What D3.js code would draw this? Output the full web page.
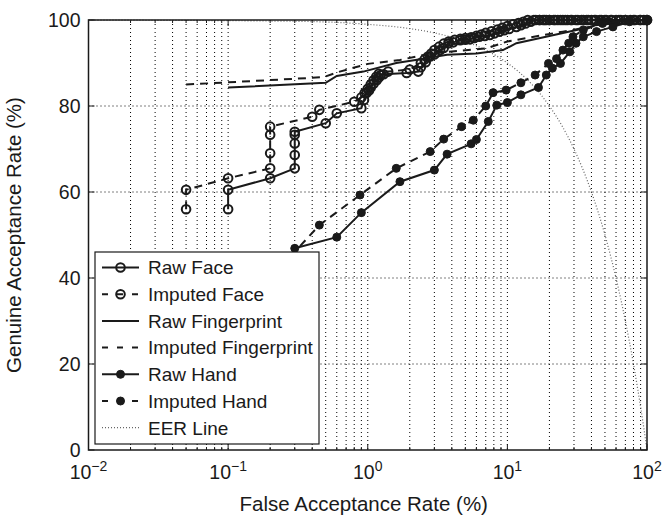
<!DOCTYPE html>
<html>
<head>
<meta charset="utf-8">
<script src="https://cdn.jsdelivr.net/npm/d3@7"></script>
<style>
  body { margin: 0; background: #fff; }
  svg { font-family: "Liberation Sans", Arial, sans-serif; }
</style>
</head>
<body>
<svg id="chart" width="665" height="515"></svg>
<script>
// ROC data (FAR %, GAR %)
var rawFaceFAR = [0.1, 0.1, 0.2, 0.3, 0.3, 0.3, 0.3, 0.3, 0.5, 0.6, 0.9, 0.94, 0.98, 1.02, 1.05, 1.1, 1.16, 1.2, 1.24, 1.3, 1.9, 2.3, 2.4, 2.6, 2.8, 3.0, 3.3, 3.5, 3.8, 4.1, 4.6, 5.0, 5.4, 5.8, 6.3, 6.9, 7.5, 8.1, 8.8, 9.5, 10.3, 11.6, 12.5, 13.5, 14.7, 16, 17, 18, 19, 20, 21.5, 23, 25, 27, 29, 31, 34, 37, 40, 43, 47, 51, 55, 60, 65, 70, 76, 82, 89, 95, 100];
var rawFaceGAR = [56, 60.5, 63.2, 65.5, 68.6, 71.3, 73.3, 74, 76, 78.3, 79.5, 81.4, 83, 83.6, 84.3, 85.2, 86, 86.6, 87.2, 87.4, 87.7, 88, 89, 90.2, 91.5, 92, 93, 93.5, 94.6, 94.8, 95.3, 95.4, 95.5, 95.8, 96.1, 96.3, 96.5, 96.9, 97.3, 97.6, 97.9, 98.4, 98.8, 99.2, 99.6, 100, 100, 100, 100, 100, 100, 100, 100, 100, 100, 100, 100, 100, 100, 100, 100, 100, 100, 100, 100, 100, 100, 100, 100, 100, 100];

var impFaceFAR = [0.05, 0.05, 0.1, 0.2, 0.2, 0.2, 0.2, 0.4, 0.45, 0.8, 0.9, 0.95, 1.0, 1.05, 1.1, 1.15, 1.2, 1.4, 2.0, 2.4, 2.55, 2.7, 2.85, 3.0, 3.25, 3.5, 3.8, 4.2, 4.6, 5.0, 5.5, 6.0, 6.5, 7.0, 7.7, 8.5, 9.2, 10, 11, 12, 13, 14, 15.5, 17, 18.5, 20, 22, 24, 26, 28.5, 32, 35, 38, 42, 46, 50, 56, 63, 70, 80, 90, 100];
var impFaceGAR = [56, 60.5, 63.2, 65.5, 69, 73.3, 75.2, 77.5, 79.1, 81, 82, 83, 84, 85, 86, 86.8, 87.5, 88, 88.5, 90, 90.8, 91.5, 92.2, 93, 93.8, 94.5, 95, 95.4, 95.6, 95.8, 96, 96.3, 96.6, 97, 97.4, 97.8, 98.2, 98.6, 99, 99.3, 99.6, 100, 100, 100, 100, 100, 100, 100, 100, 100, 100, 100, 100, 100, 100, 100, 100, 100, 100, 100, 100, 100];

var rawFingerFAR = [0.1, 0.5, 0.6, 0.93, 1.6, 2.2, 3.7, 6, 9.3, 11.6, 18.9, 35, 43, 75, 100];
var rawFingerGAR = [84.3, 85.4, 87, 88, 90, 90.7, 91.9, 92.2, 93, 94.6, 96.1, 98, 98.8, 100, 100];

var impFingerFAR = [0.05, 0.1, 0.48, 0.63, 1.0, 1.7, 2.8, 7.1, 10, 25, 39, 70, 100];
var impFingerGAR = [85, 85.5, 86.7, 88, 89.8, 90.7, 92.2, 93.4, 95, 97.3, 98.4, 100, 100];

var rawHandFAR = [0.3, 0.6, 0.9, 1.7, 3.0, 3.7, 5.5, 6.0, 7.3, 8.4, 10, 12.5, 16.7, 19, 21, 24, 28, 31, 35, 43.5, 57, 75, 100];
var rawHandGAR = [46.9, 49.5, 55.2, 62.4, 65.1, 68.8, 71.2, 72.2, 76.4, 80.2, 80.8, 82.6, 84.3, 87.2, 88.8, 89.9, 92.6, 94.6, 96.1, 97.3, 98.4, 99.6, 100];

var impHandFAR = [0.28, 0.45, 0.88, 1.6, 2.8, 3.5, 4.7, 5.7, 7.0, 7.9, 9.8, 12.5, 15.8, 19.7, 22.5, 25, 27.5, 29.5, 35, 48, 75, 100];
var impHandGAR = [45, 52.3, 59.3, 65.5, 69.4, 72.3, 75.2, 76.7, 80, 83.1, 83.7, 85.4, 87.2, 89.9, 91, 93, 94.6, 96.1, 97.7, 99.2, 100, 100];

var eerFAR = [0.01, 0.3, 1, 2, 3, 5, 7, 10, 15, 20, 25, 30, 40, 50, 60, 70, 80, 90, 95, 100];
var eerGAR = [99.99, 99.7, 99, 98, 97, 95, 93, 90, 85, 80, 75, 70, 60, 50, 40, 30, 20, 10, 5, 0];

var xTickExp = [-2, -1, 0, 1, 2];
var yTicks = [0, 20, 40, 60, 80, 100];

var series = [
  { name: 'Raw Face', far: rawFaceFAR, gar: rawFaceGAR, dash: null, marker: 'open' },
  { name: 'Imputed Face', far: impFaceFAR, gar: impFaceGAR, dash: '8,6', marker: 'open' },
  { name: 'Raw Fingerprint', far: rawFingerFAR, gar: rawFingerGAR, dash: null, marker: null },
  { name: 'Imputed Fingerprint', far: impFingerFAR, gar: impFingerGAR, dash: '8,6', marker: null },
  { name: 'Raw Hand', far: rawHandFAR, gar: rawHandGAR, dash: null, marker: 'filled' },
  { name: 'Imputed Hand', far: impHandFAR, gar: impHandGAR, dash: '8,6', marker: 'filled' }
];

var margin = { top: 20, right: 18, bottom: 65, left: 88.5 };
var svg = d3.select('#chart');
var width = 665 - margin.left - margin.right,
    height = 515 - margin.top - margin.bottom;
var ink = '#1a1a1a';

var x = d3.scaleLog().domain([0.01, 100]).range([0, width]);
var y = d3.scaleLinear().domain([0, 100]).range([height, 0]);

var g = svg.append('g').attr('transform', 'translate(' + margin.left + ',' + margin.top + ')');

// grid
var minor = x.ticks().filter(function(v) { return v > 0.01 && v < 100; });
g.append('g').selectAll('line').data(minor).enter().append('line')
  .attr('x1', function(d) { return x(d); }).attr('x2', function(d) { return x(d); })
  .attr('y1', 0).attr('y2', height)
  .attr('stroke', '#000').attr('stroke-width', 1).attr('stroke-dasharray', '1,3');
g.append('g').selectAll('line').data(yTicks.slice(1, -1)).enter().append('line')
  .attr('x1', 0).attr('x2', width)
  .attr('y1', function(d) { return y(d); }).attr('y2', function(d) { return y(d); })
  .attr('stroke', '#000').attr('stroke-width', 1).attr('stroke-dasharray', '1,3');

// ticks (inward, MATLAB style)
x.ticks().forEach(function(v) {
  var l = Math.log10(v);
  var len = Math.abs(l - Math.round(l)) < 1e-9 ? 6 : 3;
  g.append('line').attr('x1', x(v)).attr('x2', x(v)).attr('y1', height).attr('y2', height - len).attr('stroke', ink);
  g.append('line').attr('x1', x(v)).attr('x2', x(v)).attr('y1', 0).attr('y2', len).attr('stroke', ink);
});
yTicks.forEach(function(v) {
  g.append('line').attr('x1', 0).attr('x2', 6).attr('y1', y(v)).attr('y2', y(v)).attr('stroke', ink);
  g.append('line').attr('x1', width).attr('x2', width - 6).attr('y1', y(v)).attr('y2', y(v)).attr('stroke', ink);
});

// EER line
var eer = eerFAR.map(function(f, i) { return [f, eerGAR[i]]; });
g.append('path').datum(eer)
  .attr('d', d3.line().x(function(d) { return x(d[0]); }).y(function(d) { return y(d[1]); }).curve(d3.curveMonotoneX))
  .attr('fill', 'none').attr('stroke', '#666').attr('stroke-width', 1.2).attr('stroke-dasharray', '1,2');

var line = d3.line().x(function(d) { return x(d[0]); }).y(function(d) { return y(d[1]); });

series.forEach(function(s) {
  var pts = s.far.map(function(f, i) { return [f, s.gar[i]]; });
  g.append('path').datum(pts).attr('d', line)
    .attr('fill', 'none').attr('stroke', ink).attr('stroke-width', 2)
    .attr('stroke-dasharray', s.dash);
  if (s.marker) {
    g.append('g').selectAll('circle').data(pts).enter().append('circle')
      .attr('cx', function(d) { return x(d[0]); })
      .attr('cy', function(d) { return y(d[1]); })
      .attr('r', s.marker === 'open' ? 4.3 : 4)
      .attr('fill', s.marker === 'open' ? 'none' : ink)
      .attr('stroke', ink).attr('stroke-width', s.marker === 'open' ? 2 : 1);
  }
});

// axes box
g.append('rect').attr('width', width).attr('height', height)
  .attr('fill', 'none').attr('stroke', ink).attr('stroke-width', 1.5);

// tick labels
xTickExp.forEach(function(e) {
  var t = g.append('text').attr('x', x(Math.pow(10, e))).attr('y', height + 29)
    .attr('text-anchor', 'middle').attr('fill', ink).style('font-size', '19.5px');
  t.append('tspan').text('10');
  t.append('tspan').attr('dy', -8).style('font-size', '14px').text(e < 0 ? '\u2212' + (-e) : String(e));
});
yTicks.forEach(function(v) {
  g.append('text').attr('x', -8).attr('y', y(v)).attr('dy', '0.36em')
    .attr('text-anchor', 'end').attr('fill', ink).style('font-size', '19.5px').text(v);
});

// axis titles
g.append('text').attr('x', width / 2 - 4).attr('y', height + 61)
  .attr('text-anchor', 'middle').attr('fill', ink).style('font-size', '20.5px')
  .text('False Acceptance Rate (%)');
g.append('text').attr('transform', 'rotate(-90)')
  .attr('x', -height / 2).attr('y', -68)
  .attr('text-anchor', 'middle').attr('fill', ink).style('font-size', '20.5px')
  .text('Genuine Acceptance Rate (%)');

// legend
var lg = svg.append('g').attr('transform', 'translate(95,252)');
lg.append('rect').attr('width', 224).attr('height', 192)
  .attr('fill', '#fff').attr('stroke', ink).attr('stroke-width', 1.2);
var legendItems = series.concat([{ name: 'EER Line', eer: true }]);
legendItems.forEach(function(s, i) {
  var cy = 15.5 + i * 26.7;
  var row = lg.append('g').attr('transform', 'translate(0,' + cy + ')');
  if (s.eer) {
    row.append('line').attr('x1', 7).attr('x2', 44).attr('y1', 0).attr('y2', 0)
      .attr('stroke', '#666').attr('stroke-width', 1.2).attr('stroke-dasharray', '1,2');
  } else {
    row.append('line').attr('x1', 7).attr('x2', 44).attr('y1', 0).attr('y2', 0)
      .attr('stroke', ink).attr('stroke-width', 2)
      .attr('stroke-dasharray', s.dash ? '6,9' : null);
    if (s.marker) {
      row.append('circle').attr('cx', 25.5).attr('cy', 0)
        .attr('r', s.marker === 'open' ? 4.3 : 4)
        .attr('fill', s.marker === 'open' ? 'none' : ink)
        .attr('stroke', ink).attr('stroke-width', s.marker === 'open' ? 2 : 1);
    }
  }
  row.append('text').attr('x', 53).attr('dy', '0.36em').attr('fill', ink)
    .style('font-size', '19px').text(s.name);
});
</script>
</body>
</html>
